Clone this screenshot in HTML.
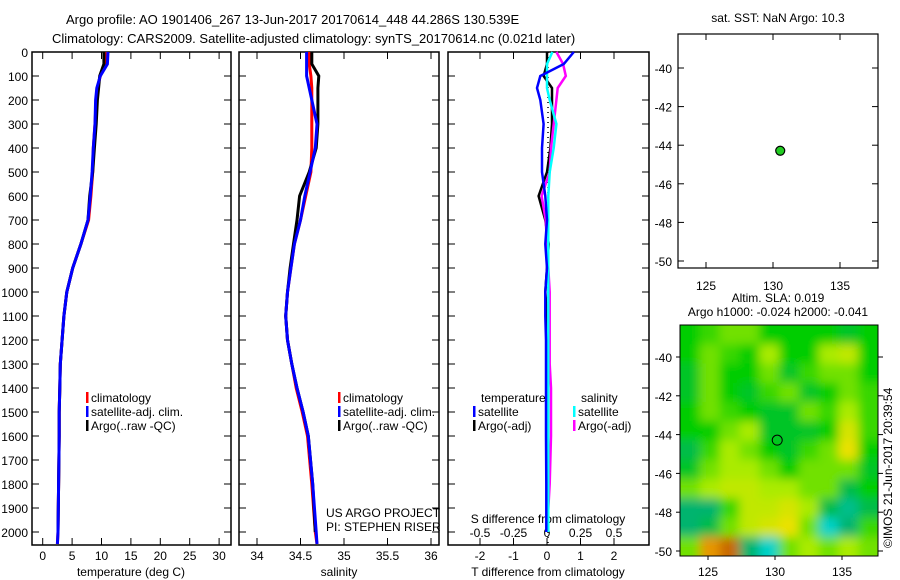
<!DOCTYPE html>
<html><head><meta charset="utf-8"><style>
body{margin:0;background:#fff;}
svg{display:block;font-family:"Liberation Sans",sans-serif;}
</style></head><body>
<svg id="c" width="900" height="580" xmlns="http://www.w3.org/2000/svg">
<defs>
<filter id="blur" x="0" y="0" width="100%" height="100%"><feGaussianBlur stdDeviation="5"/></filter>
<clipPath id="mapclip"><rect x="680" y="325" width="198" height="231"/></clipPath>
</defs>
<text x="66" y="24" font-size="13">Argo profile: AO 1901406_267 13-Jun-2017 20170614_448 44.286S 130.539E</text>
<text x="52" y="43" font-size="13">Climatology: CARS2009. Satellite-adjusted climatology: synTS_20170614.nc (0.021d later)</text>
<g id="g"></g>
</svg>
<script>
const depths=[0,50,100,150,200,300,400,500,600,700,800,900,1000,1100,1200,1300,1400,1500,1600,1800,2000,2050];
const tClim=[10.6,10.6,9.8,9.3,9.1,8.9,8.6,8.5,8.2,7.8,6.5,5.1,4.1,3.6,3.3,3.0,2.9,2.8,2.8,2.7,2.6,2.5];
const tSat=[11.1,11.0,9.8,9.2,9.0,8.9,8.6,8.4,8.1,7.7,6.5,5.1,4.1,3.6,3.3,3.0,2.9,2.8,2.8,2.7,2.6,2.5];
const tArgo=[10.4,10.4,9.7,9.5,9.3,9.1,8.8,8.5,8.0,7.7,6.5,5.1,4.1,3.6,3.3,3.0,2.9,2.8,2.8,2.7,2.6];
const sClim=[34.6,34.6,34.62,34.63,34.63,34.63,34.63,34.62,34.56,34.5,34.43,34.39,34.35,34.33,34.35,34.4,34.45,34.52,34.58,34.63,34.67,34.69];
const sSat=[34.57,34.57,34.57,34.6,34.63,34.69,34.67,34.61,34.55,34.5,34.43,34.39,34.35,34.33,34.35,34.4,34.46,34.53,34.59,34.64,34.68,34.69];
const sArgo=[34.63,34.63,34.71,34.7,34.7,34.7,34.68,34.6,34.49,34.46,34.42,34.38,34.35,34.33,34.35,34.4,34.46,34.53,34.59,34.64,34.67];
const dTsat=[0.8,0.5,-0.2,-0.3,-0.2,-0.1,-0.15,-0.15,-0.05,0,-0.05,0,-0.05,-0.05,-0.03,-0.03,-0.03,-0.03,-0.03,-0.02,-0.02];
const dTargo=[0,0,-0.1,0.15,0.15,0.15,0.1,0,-0.25,-0.05,0.05,0,-0.05,0,-0.02,0,-0.02,0,0,0,0];
const dSsat=[0.04,0,0,0,0.02,0.07,0.05,0.02,0.01,0.01,0.01,0.01,0.01,0.01,0.01,0.01,0.01,0.01,0.01,0.01,0.01];
const dSargo=[0.07,0.12,0.14,0.08,0.07,0.05,0.03,0.02,-0.04,-0.01,0,0.01,0.02,0.02,0.02,0.02,0.03,0.03,0.03,0.02,0];
const depthTicks=[0,100,200,300,400,500,600,700,800,900,1000,1100,1200,1300,1400,1500,1600,1700,1800,1900,2000];
const tTicks=[0,5,10,15,20,25,30];
const sTicks=[34,34.5,35,35.5,36];
const dTTicks=[-2,-1,0,1,2];
const dSTickLabels=["-0.5","-0.25","0","0.25","0.5"];
const dSTicks=[-0.5,-0.25,0,0.25,0.5];
const latTicks=[-40,-42,-44,-46,-48,-50];
const lonTicks=[125,130,135];
const floatLon=130.539, floatLat=-44.286;
const slaGrid=[
[0.5,0.55,0.6,0.6,0.5,0.5,0.5,0.5,0.45,0.5],
[0.5,0.6,0.55,0.5,0.65,0.5,0.5,0.65,0.7,0.5],
[0.45,0.6,0.5,0.5,0.6,0.45,0.55,0.6,0.6,0.5],
[0.45,0.6,0.5,0.45,0.55,0.6,0.45,0.5,0.6,0.55],
[0.5,0.6,0.55,0.5,0.45,0.45,0.6,0.55,0.65,0.55],
[0.5,0.5,0.6,0.65,0.45,0.45,0.45,0.5,0.75,0.55],
[0.4,0.55,0.65,0.6,0.5,0.45,0.55,0.6,0.8,0.5],
[0.45,0.6,0.65,0.65,0.6,0.5,0.6,0.6,0.6,0.45],
[0.6,0.65,0.7,0.7,0.65,0.65,0.6,0.6,0.4,0.5],
[0.35,0.35,0.55,0.7,0.7,0.75,0.65,0.4,0.3,0.4],
[0.35,0.4,0.6,0.7,0.75,0.8,0.6,0.2,0.35,0.55],
[0.6,0.9,0.95,0.35,0.2,0.6,0.65,0.6,0.65,0.6]];

const NS="http://www.w3.org/2000/svg";
const G=document.getElementById('g');
function mk(tag,at,parent){const e=document.createElementNS(NS,tag);for(const k in at)e.setAttribute(k,at[k]);(parent||G).appendChild(e);return e;}
const yD=d=>52+d*0.24;
function panel(x0,x1,name){
  const r=mk('rect',{x:x0,y:52,width:x1-x0,height:493,fill:'none',stroke:'#000','stroke-width':1.5});
  
  
  depthTicks.forEach(d=>{mk('line',{x1:x0,x2:x0+7,y1:yD(d),y2:yD(d),stroke:'#000'});mk('line',{x1:x1,x2:x1-7,y1:yD(d),y2:yD(d),stroke:'#000'});});
}
function txt(x,y,s,name,anchor,size){const t=mk('text',{x:x,y:y,'font-size':size||12,'text-anchor':anchor||'start'});t.textContent=s;
  
  
  return t;}
function line(vals,xf,color,w,name){
  const pts=vals.map((v,i)=>xf(v).toFixed(1)+','+yD(depths[i]).toFixed(1)).join(' ');
  const p=mk('polyline',{points:pts,fill:'none',stroke:color,'stroke-width':w});
  
  
}
const xT=t=>42.7+t*5.88;
panel(32,231,'temperature-panel');
depthTicks.forEach(d=>txt(28,yD(d)+5,String(d),'depth-tick-label','end'));
tTicks.forEach(t=>{mk('line',{x1:xT(t),x2:xT(t),y1:545,y2:538,stroke:'#000'});mk('line',{x1:xT(t),x2:xT(t),y1:52,y2:59,stroke:'#000'});txt(xT(t),560,String(t),'temp-tick-label','middle');});
txt(131,576,'temperature (deg C)','temp-axis-title','middle');
line(tClim,xT,'#f00',3,'temp-climatology-line');
line(tArgo,xT,'#000',3,'temp-argo-line');
line(tSat,xT,'#00f',3,'temp-satellite-line');
const xS=s=>257+(s-34)*87;
panel(239,439,'salinity-panel');
sTicks.forEach(s=>{mk('line',{x1:xS(s),x2:xS(s),y1:545,y2:538,stroke:'#000'});mk('line',{x1:xS(s),x2:xS(s),y1:52,y2:59,stroke:'#000'});txt(xS(s),560,String(s),'salinity-tick-label','middle');});
txt(339,576,'salinity','salinity-axis-title','middle');
line(sClim,xS,'#f00',3,'sal-climatology-line');
line(sArgo,xS,'#000',3,'sal-argo-line');
line(sSat,xS,'#00f',3,'sal-satellite-line');
txt(326,517,'US ARGO PROJECT','project-label');
txt(326,531,'PI: STEPHEN RISER','pi-label');
function leg(x,y,c,s,name){mk('rect',{x:x,y:y-10,width:2.5,height:11,fill:c});txt(x+5,y,s,name);}
[[86,'climatology','#f00'],[86,'satellite-adj. clim.','#00f'],[86,'Argo(..raw -QC)','#000']].forEach((a,i)=>leg(a[0],402+i*14,a[2],a[1],'temp-legend-entry'));
[[338,'climatology','#f00'],[338,'satellite-adj. clim.','#00f'],[338,'Argo(..raw -QC)','#000']].forEach((a,i)=>leg(a[0],402+i*14,a[2],a[1],'sal-legend-entry'));
const xDT=v=>547+v*33.5, xDS=v=>547+v*134;
panel(448,649,'difference-panel');
dTTicks.forEach(t=>{mk('line',{x1:xDT(t),x2:xDT(t),y1:545,y2:538,stroke:'#000'});mk('line',{x1:xDT(t),x2:xDT(t),y1:52,y2:59,stroke:'#000'});txt(xDT(t),560,String(t),'tdiff-tick-label','middle');});
dSTicks.forEach((s,i)=>txt(xDS(s),537,dSTickLabels[i],'sdiff-tick-label','middle'));
txt(548,523,'S difference from climatology','sdiff-axis-title','middle');
txt(548,576,'T difference from climatology','tdiff-axis-title','middle');
mk('line',{x1:548,x2:548,y1:52,y2:545,stroke:'#000','stroke-dasharray':'1,4','stroke-width':1.5});
line(dTargo,xDT,'#000',2.5,'tdiff-argo-line');
line(dSargo,xDS,'#f0f',2.5,'sdiff-argo-line');
line(dSsat,xDS,'#0ff',2.5,'sdiff-satellite-line');
line(dTsat,xDT,'#00f',2.5,'tdiff-satellite-line');
txt(481,402,'temperature','tdiff-legend-title');
txt(581,402,'salinity','sdiff-legend-title');
leg(473,416,'#00f','satellite','tdiff-legend-satellite');
leg(473,430,'#000','Argo(-adj)','tdiff-legend-argo');
leg(573,416,'#0ff','satellite','sdiff-legend-satellite');
leg(573,430,'#f0f','Argo(-adj)','sdiff-legend-argo');
const mx=l=>706+(l-125)*13.4;
const my1=la=>68+(-40-la)*19.3;
const m1=mk('rect',{x:678,y:34,width:200,height:234,fill:'#fff',stroke:'#000','stroke-width':1.2});


latTicks.forEach(la=>{mk('line',{x1:678,x2:684,y1:my1(la),y2:my1(la),stroke:'#000'});mk('line',{x1:878,x2:872,y1:my1(la),y2:my1(la),stroke:'#000'});txt(672,my1(la)+5,String(la),'map-lat-label','end');});
lonTicks.forEach(lo=>{mk('line',{x1:mx(lo),x2:mx(lo),y1:268,y2:262,stroke:'#000'});mk('line',{x1:mx(lo),x2:mx(lo),y1:34,y2:40,stroke:'#000'});txt(mx(lo),290,String(lo),'map-lon-label','middle');});
txt(778,22,'sat. SST: NaN Argo: 10.3','sst-title','middle');
const fp=mk('circle',{cx:mx(floatLon),cy:my1(floatLat),r:4.5,fill:'#2c2',stroke:'#000','stroke-width':1.2});


const my2=la=>357+(-40-la)*19.4;
txt(778,302,'Altim. SLA: 0.019','sla-title','middle');
txt(778,316,'Argo h1000: -0.024 h2000: -0.041','argo-height-title','middle');
function cmap(v){
  const st=[[0.15,[0,220,230]],[0.35,[0,180,110]],[0.5,[0,205,0]],[0.65,[170,235,0]],[0.8,[235,225,0]],[0.9,[230,150,0]],[1,[170,60,0]]];
  if(v<=st[0][0])return st[0][1];
  for(let i=1;i<st.length;i++){if(v<=st[i][0]){const a=st[i-1],b=st[i],f=(v-a[0])/(b[0]-a[0]);return a[1].map((c,k)=>Math.round(c+(b[1][k]-c)*f));}}
  return st[st.length-1][1];
}
const hg=mk('g',{'clip-path':'url(#mapclip)'});
const hb=mk('g',{filter:'url(#blur)'},hg);
const nR=slaGrid.length,nC=slaGrid[0].length,cw=198/nC,ch=231/nR;
slaGrid.forEach((row,r)=>row.forEach((v,c)=>{
  const col=cmap(v);
  const cell=mk('rect',{x:680+c*cw-(c==0?20:0),y:325+r*ch-(r==0?20:0),width:cw+1+(c==0||c==nC-1?20:0),height:ch+1+(r==0||r==nR-1?20:0),fill:'rgb('+col.join(',')+')'},hb);
  
  
}));
const m2=mk('rect',{x:680,y:325,width:198,height:231,fill:'none',stroke:'#000','stroke-width':1});


latTicks.forEach(la=>{mk('line',{x1:676,x2:680,y1:my2(la),y2:my2(la),stroke:'#000'});mk('line',{x1:878,x2:883,y1:my2(la),y2:my2(la),stroke:'#000'});txt(672,my2(la)+5,String(la),'sla-lat-label','end');});
lonTicks.forEach(lo=>{mk('line',{x1:mx(lo)+2,x2:mx(lo)+2,y1:556,y2:560,stroke:'#000'});txt(mx(lo)+2,576,String(lo),'sla-lon-label','middle');});
const fp2=mk('circle',{cx:mx(floatLon)-3,cy:my2(floatLat),r:5,fill:'none',stroke:'#000','stroke-width':1});


const cr=txt(0,0,'©IMOS 21-Jun-2017 20:39:54','imos-credit');
cr.setAttribute('transform','translate(892,548) rotate(-90)');
</script>
</body></html>
